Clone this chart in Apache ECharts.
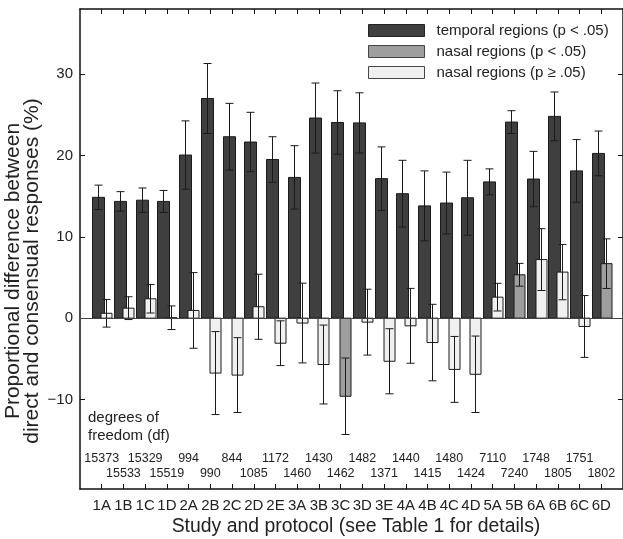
<!DOCTYPE html>
<html>
<head>
<meta charset="utf-8">
<script src="https://cdn.jsdelivr.net/npm/echarts@6/dist/echarts.min.js"></script>
<style>
html,body{margin:0;padding:0;background:#fff;}
#chart{width:623px;height:539px;}
</style>
</head>
<body>
<div id="chart"></div>
<script>
const categories = ['1A','1B','1C','1D','2A','2B','2C','2D','2E','3A','3B','3C','3D','3E','4A','4B','4C','4D','5A','5B','6A','6B','6C','6D'];
const temporal    = [14.85,14.35,14.5,14.35,20.05,27.0,22.3,21.65,19.5,17.3,24.6,24.05,24.0,17.15,15.3,13.8,14.15,14.8,16.75,24.1,17.1,24.8,18.1,20.25];
const temporalErr = [1.5,1.2,1.5,1.35,4.2,4.3,4.1,3.65,2.8,3.9,4.3,3.9,3.7,3.9,4.1,4.3,3.8,4.6,1.6,1.4,3.4,3.0,3.85,2.75];
const nasal       = [0.6,1.23,2.38,0.05,0.95,-6.75,-7.0,1.4,-3.08,-0.6,-5.7,-9.6,-0.49,-5.3,-0.94,-3.0,-6.3,-6.9,2.58,5.33,7.2,5.66,-1.02,6.7];
const nasalErr    = [1.7,1.4,1.75,1.45,4.65,5.1,4.6,4.0,2.75,4.9,4.85,4.7,4.05,4.0,4.6,4.7,4.05,4.7,1.7,1.4,3.8,3.4,3.8,3.05];
const nasalSignificant = [0,0,0,0,0,0,0,0,0,0,0,1,0,0,0,0,0,0,0,1,0,0,0,1];
const degreesOfFreedom = [15373,15533,15329,15519,994,990,844,1085,1172,1460,1430,1462,1482,1371,1440,1415,1480,1424,7110,7240,1748,1805,1751,1802];
const yTicks = [-10,0,10,20,30];

const names = ['temporal regions (p < .05)','nasal regions (p < .05)','nasal regions (p \u2265 .05)'];
const fills = ['#3f3f3f','#9e9e9e','#f0f0f0'];

const catPos = categories.map((c,i)=>i+1);

function barRenderer(offsetPx, widthPx, fill){
  return function(params, api){
    const x = api.value(0), v = api.value(1), e = api.value(2);
    const p = api.coord([x, v]);
    const p0 = api.coord([x, 0]);
    const pt = api.coord([x, v + e]);
    const pb = api.coord([x, v - e]);
    const xc = Math.round(p[0] + offsetPx) + 0.5;
    const top = Math.min(p[1], p0[1]);
    const h = Math.abs(p[1] - p0[1]);
    const cap = 4;
    const ls = {stroke:'#1a1a1a', lineWidth:1};
    return {type:'group', children:[
      {type:'rect', shape:{x:xc - widthPx/2, y:top, width:widthPx, height:h}, style:{fill:fill, stroke:'#1a1a1a', lineWidth:1}},
      {type:'line', shape:{x1:xc, y1:pt[1], x2:xc, y2:pb[1]}, style:ls},
      {type:'line', shape:{x1:xc-cap, y1:pt[1], x2:xc+cap, y2:pt[1]}, style:ls},
      {type:'line', shape:{x1:xc-cap, y1:pb[1], x2:xc+cap, y2:pb[1]}, style:ls}
    ]};
  };
}

const temporalData = categories.map((c,i)=>[i+1, temporal[i], temporalErr[i]]);
const nasalSigData = [], nasalNsData = [];
categories.forEach((c,i)=>{
  const d = [i+1, nasal[i], nasalErr[i]];
  if (nasalSignificant[i]) nasalSigData.push(d); else nasalNsData.push(d);
});
const dfData = categories.map((c,i)=>[i+1, i % 2 === 0 ? -17.2 : -19.05, degreesOfFreedom[i]]);

const font = 'Liberation Sans, Arial, Helvetica, sans-serif';
const axisCommon = {
  axisLine:{show:true, onZero:false, lineStyle:{color:'#111', width:1.5}},
  splitLine:{show:false}
};

const chart = echarts.init(document.getElementById('chart'), null, {renderer:'canvas'});
chart.setOption({
  animation:false,
  backgroundColor:'#fff',
  textStyle:{fontFamily:font},
  grid:{left:80, top:9, right:0, bottom:50, containLabel:false},
  legend:{
    orient:'vertical', left:368, top:23, padding:0, itemWidth:56, itemHeight:12, itemGap:6,
    icon:'rect', selectedMode:false,
    textStyle:{fontSize:15, color:'#222', fontFamily:font, padding:[0,0,0,7]},
    data:[
      {name:names[0], itemStyle:{color:fills[0], borderColor:'#222', borderWidth:1}},
      {name:names[1], itemStyle:{color:fills[1], borderColor:'#444', borderWidth:1}},
      {name:names[2], itemStyle:{color:fills[2], borderColor:'#444', borderWidth:1}}
    ]
  },
  xAxis:[
    Object.assign({type:'value', min:0, max:25, interval:1, position:'bottom',
      axisTick:{show:true, inside:true, length:5, customValues:catPos, lineStyle:{color:'#111'}},
      axisLabel:{show:true, customValues:catPos, formatter:v=>categories[v-1]||'', fontSize:15, color:'#222', margin:9, fontFamily:font}
    }, axisCommon),
    Object.assign({type:'value', min:0, max:25, interval:1, position:'top',
      axisTick:{show:true, inside:true, length:5, customValues:catPos, lineStyle:{color:'#111'}},
      axisLabel:{show:false}
    }, axisCommon)
  ],
  yAxis:[
    Object.assign({type:'value', min:-21, max:38, position:'left',
      axisTick:{show:true, inside:true, length:5, customValues:yTicks, lineStyle:{color:'#111'}},
      axisLabel:{show:true, customValues:yTicks, formatter:v=>v<0?'\u2212'+Math.abs(v):String(v), fontSize:15, color:'#222', margin:7, fontFamily:font}
    }, axisCommon),
    Object.assign({type:'value', min:-21, max:38, position:'right',
      axisTick:{show:true, inside:true, length:5, customValues:yTicks, lineStyle:{color:'#111'}},
      axisLabel:{show:false}
    }, axisCommon)
  ],
  series:[
    {name:names[0], type:'custom', data:temporalData, renderItem:barRenderer(-3.5, 12, fills[0]),
      itemStyle:{color:fills[0]}, z:2,
      markLine:{silent:true, symbol:'none', label:{show:false}, lineStyle:{color:'#444', width:1, type:'solid'}, data:[{yAxis:0}]}},
    {name:names[2], type:'custom', data:nasalNsData, renderItem:barRenderer(4.5, 11, fills[2]), itemStyle:{color:fills[2]}, z:3},
    {name:names[1], type:'custom', data:nasalSigData, renderItem:barRenderer(4.5, 11, fills[1]), itemStyle:{color:fills[1]}, z:3},
    {name:'df', type:'custom', data:dfData, silent:true, z:4,
      renderItem:function(params, api){
        const p = api.coord([api.value(0), api.value(1)]);
        return {type:'text', x:p[0], y:p[1], style:{text:String(api.value(2)), align:'center', verticalAlign:'middle', fontSize:12.5, fontFamily:font, fill:'#222'}};
      }}
  ],
  graphic:[
    {type:'text', left:88, top:409, style:{text:'degrees of\nfreedom (df)', fontSize:15, lineHeight:18, fontFamily:font, fill:'#222'}},
    {type:'text', x:23, y:271, rotation:Math.PI/2, style:{text:'Proportional difference between\ndirect and consensual responses (%)', align:'center', verticalAlign:'middle', fontSize:21, lineHeight:19, fontFamily:font, fill:'#222'}},
    {type:'text', x:356, y:527, style:{text:'Study and protocol (see Table 1 for details)', align:'center', verticalAlign:'middle', fontSize:19.4, fontFamily:font, fill:'#222'}}
  ]
});
</script>
</body>
</html>
